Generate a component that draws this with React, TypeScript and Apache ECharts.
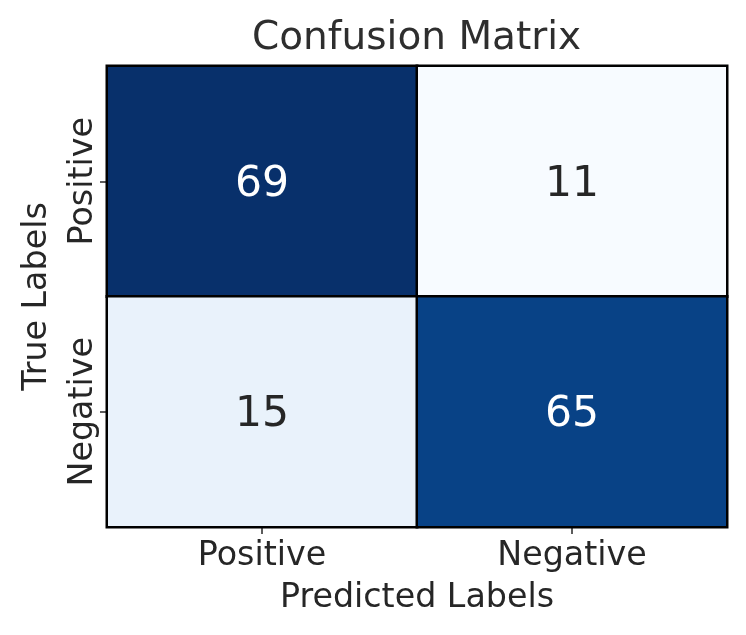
import React, { useEffect, useRef } from "react";
import * as echarts from "echarts";

const predictedLabels = ["Positive", "Negative"];
const trueLabels = ["Positive", "Negative"];
const matrix = [
  [69, 11],
  [15, 65],
];
const blues = ["#f7fbff", "#deebf7", "#c6dbef", "#9ecae1", "#6baed6", "#4292c6", "#2171b5", "#08519c", "#08306b"];

export default function App() {
  const ref = useRef<HTMLDivElement>(null);
  useEffect(() => {
    const chart = echarts.init(ref.current!, null, { renderer: "svg" });
    const flat = matrix.flat();
    const vmin = Math.min(...flat);
    const vmax = Math.max(...flat);
    const data: any[] = [];
    matrix.forEach((row, yi) =>
      row.forEach((v, xi) => {
        const t = (v - vmin) / (vmax - vmin);
        data.push({ value: [xi, yi, v], label: { color: t > 0.5 ? "#ffffff" : "#262626" } });
      })
    );
    const font = "DejaVu Sans";
    chart.setOption({
      animation: false,
      textStyle: { fontFamily: font },
      title: {
        text: "Confusion Matrix",
        left: 247,
        top: 11,
        textStyle: { fontFamily: font, fontSize: 39, fontWeight: "normal", color: "#2e2e2e" },
      },
      grid: { left: 107, top: 66, width: 620, height: 461 },
      xAxis: {
        type: "category",
        data: predictedLabels,
        name: "Predicted Labels",
        nameLocation: "middle",
        nameGap: 52,
        nameTextStyle: { fontFamily: font, fontSize: 33.3, color: "#262626" },
        axisLine: { show: false },
        axisTick: { show: true, alignWithLabel: true, length: 7, lineStyle: { color: "#262626", width: 1.5 } },
        axisLabel: { fontFamily: font, fontSize: 33.3, color: "#262626", margin: 10 },
        splitLine: { show: false },
      },
      yAxis: {
        type: "category",
        data: trueLabels,
        inverse: true,
        name: "True Labels",
        nameLocation: "middle",
        nameGap: 56,
        nameRotate: 90,
        nameTextStyle: { fontFamily: font, fontSize: 33.3, color: "#262626" },
        axisLine: { show: false },
        axisTick: { show: true, alignWithLabel: true, length: 7, lineStyle: { color: "#262626", width: 1.5 } },
        axisLabel: { fontFamily: font, fontSize: 33.3, color: "#262626", rotate: 90, margin: 10 },
        splitLine: { show: false },
      },
      visualMap: {
        show: false,
        min: vmin,
        max: vmax,
        dimension: 2,
        inRange: { color: blues },
      },
      series: [
        {
          type: "heatmap",
          data,
          label: { show: true, fontFamily: font, fontSize: 42.5 },
          itemStyle: { borderColor: "#000000", borderWidth: 2.5 },
          emphasis: { disabled: true },
        },
      ],
    });
    return () => chart.dispose();
  }, []);
  return <div ref={ref} style={{ position: "fixed", left: 0, top: 0, width: 746, height: 635 }} />;
}
